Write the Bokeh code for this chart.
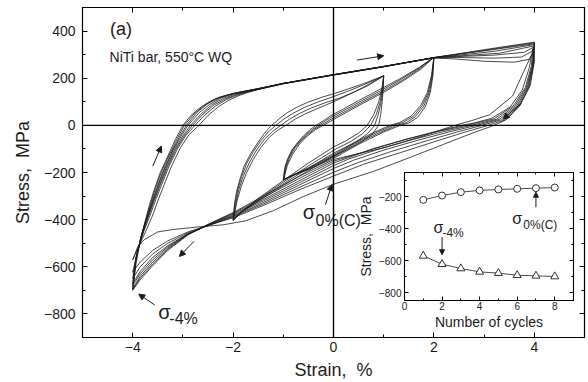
from bokeh.plotting import figure
from bokeh.models import Range1d, LinearAxis, SingleIntervalTicker, Span, Label, Arrow, NormalHead
from bokeh.layouts import column
from bokeh.embed import file_html
from bokeh.resources import INLINE

# ---------------- data ----------------
# Loop between -4 % and +4 % strain: loading branches (cycles 1..8, some cycles)
BIG_LOADING = [
    [(-4.00, -571), (-3.85, -500), (-3.72, -440), (-3.60, -380), (-3.48, -310), (-3.37, -250), (-3.22, -170),
     (-3.05, -95), (-2.88, -40), (-2.68, 0), (-2.50, 42), (-2.30, 78), (-2.10, 105), (-1.90, 125), (-1.70, 140),
     (-1.50, 152), (-1.00, 176), (0.00, 213), (1.00, 248), (2.00, 287), (3.00, 321), (4.00, 353)],
    [(-4.00, -623), (-3.90, -530), (-3.78, -450), (-3.66, -385), (-3.54, -315), (-3.42, -250), (-3.28, -175),
     (-3.11, -100), (-2.94, -42), (-2.76, 0), (-2.56, 45), (-2.35, 82), (-2.13, 110), (-1.92, 128), (-1.72, 141),
     (-1.50, 153), (-1.00, 177), (0.00, 214), (1.00, 249), (2.00, 288), (3.00, 318), (4.00, 350)],
    [(-4.00, -650), (-3.92, -548), (-3.80, -458), (-3.69, -390), (-3.57, -318), (-3.45, -252), (-3.31, -178),
     (-3.14, -102), (-2.97, -44), (-2.81, 0), (-2.60, 48), (-2.39, 85), (-2.16, 112), (-1.94, 130), (-1.73, 142),
     (-1.50, 153), (-1.00, 177), (0.00, 214), (1.00, 249), (2.00, 288), (3.00, 316), (3.99, 346)],
    [(-4.00, -671), (-3.93, -560), (-3.82, -465), (-3.71, -395), (-3.59, -322), (-3.47, -255), (-3.33, -180),
     (-3.17, -105), (-3.00, -45), (-2.85, 0), (-2.63, 50), (-2.42, 88), (-2.19, 115), (-1.96, 132), (-1.74, 143),
     (-1.50, 154), (-1.00, 178), (0.00, 214), (1.00, 249), (2.00, 287), (2.60, 300), (3.20, 314), (3.98, 342)],
    [(-4.00, -679), (-3.94, -568), (-3.83, -470), (-3.73, -400), (-3.61, -328), (-3.50, -260), (-3.36, -184),
     (-3.20, -108), (-3.04, -48), (-2.90, 0), (-2.68, 53), (-2.46, 90), (-2.23, 117), (-1.99, 134), (-1.76, 144),
     (-1.50, 155), (-1.00, 178), (0.00, 215), (1.00, 250), (2.00, 287), (2.60, 296), (3.30, 306), (3.97, 336)],
    [(-4.00, -692), (-3.94, -575), (-3.84, -478), (-3.74, -405), (-3.63, -333), (-3.52, -265), (-3.38, -187),
     (-3.22, -112), (-3.07, -50), (-2.93, 0), (-2.72, 55), (-2.50, 93), (-2.26, 118), (-2.01, 135), (-1.77, 145),
     (-1.50, 155), (-1.00, 178), (0.00, 215), (1.00, 250), (2.00, 287), (2.50, 292), (3.20, 298), (3.80, 310),
     (3.97, 330)],
    [(-4.00, -696), (-3.94, -580), (-3.85, -485), (-3.75, -410), (-3.65, -337), (-3.55, -268), (-3.42, -194),
     (-3.26, -120), (-3.11, -55), (-2.97, 0), (-2.78, 48), (-2.60, 80), (-2.40, 107), (-2.18, 125), (-1.92, 139),
     (-1.50, 156), (-1.00, 178), (0.00, 215), (1.00, 250), (2.00, 286), (2.50, 288), (3.20, 285), (3.75, 290),
     (3.96, 315)],
    [(-4.00, -700), (-3.93, -583), (-3.85, -490), (-3.76, -414), (-3.67, -340), (-3.57, -272), (-3.45, -200),
     (-3.30, -130), (-3.15, -60), (-3.00, 0), (-2.85, 40), (-2.70, 68), (-2.50, 97), (-2.30, 118), (-2.05, 132),
     (-1.80, 143), (-1.50, 156), (-1.00, 178), (0.00, 215), (1.00, 250), (2.00, 286), (2.40, 282), (3.00, 272),
     (3.60, 268), (3.90, 280), (3.95, 300)],
]
# Loop between -4 % and +4 %: unloading branches
BIG_UNLOADING = [
    [(4.00, 353), (4.00, 270), (3.92, 170), (3.72, 85), (3.45, 25), (3.20, 0), (2.80, -30), (2.20, -80),
     (1.50, -138), (0.80, -195), (0.00, -250), (-0.60, -302), (-1.20, -362), (-1.75, -405), (-2.20, -422),
     (-2.70, -431), (-3.20, -442), (-3.50, -452), (-3.77, -485), (-3.90, -515), (-4.00, -571)],
    [(4.00, 353), (3.99, 265), (3.90, 165), (3.70, 82), (3.40, 22), (3.08, 0), (2.60, -30), (2.00, -70),
     (1.30, -118), (0.60, -165), (0.00, -215), (-0.70, -275), (-1.40, -340), (-2.00, -392), (-2.50, -425),
     (-2.90, -452), (-3.30, -490), (-3.60, -530), (-3.85, -580), (-4.00, -623)],
    [(4.00, 350), (3.98, 260), (3.88, 162), (3.67, 81), (3.35, 24), (2.96, 0), (2.45, -29), (1.85, -66),
     (1.15, -111), (0.50, -157), (0.00, -199), (-0.70, -265), (-1.40, -334), (-2.00, -388), (-2.50, -425),
     (-2.90, -456), (-3.30, -500), (-3.60, -545), (-3.85, -600), (-4.00, -650)],
    [(4.00, 345), (3.97, 255), (3.86, 160), (3.64, 80), (3.30, 25), (2.85, 0), (2.30, -28), (1.70, -62),
     (1.00, -105), (0.40, -148), (0.00, -183), (-0.70, -255), (-1.40, -328), (-2.00, -385), (-2.50, -425),
     (-2.90, -460), (-3.30, -510), (-3.60, -560), (-3.85, -620), (-4.00, -671)],
    [(3.99, 342), (3.96, 252), (3.84, 160), (3.61, 81), (3.25, 26), (2.75, 0), (2.20, -26), (1.60, -59),
     (0.90, -101), (0.30, -143), (0.00, -171), (-0.70, -246), (-1.40, -321), (-2.00, -381), (-2.50, -423),
     (-2.90, -461), (-3.30, -515), (-3.60, -570), (-3.85, -630), (-4.00, -679)],
    [(3.98, 335), (3.94, 250), (3.82, 160), (3.58, 82), (3.20, 28), (2.65, 0), (2.10, -25), (1.50, -56),
     (0.80, -98), (0.00, -160), (-0.70, -237), (-1.40, -315), (-2.00, -377), (-2.50, -422), (-2.90, -462),
     (-3.30, -520), (-3.60, -580), (-3.85, -640), (-4.00, -692)],
    [(3.97, 325), (3.90, 245), (3.76, 150), (3.52, 78), (3.15, 30), (2.80, 10), (2.55, 0), (2.00, -28),
     (1.40, -62), (0.80, -100), (0.00, -152), (-0.70, -227), (-1.40, -307), (-2.00, -373), (-2.50, -421),
     (-2.90, -463), (-3.30, -525), (-3.60, -588), (-3.85, -648), (-4.00, -696)],
    [(3.95, 300), (3.84, 252), (3.57, 125), (3.11, 45), (2.75, 20), (2.45, 2), (2.10, -22), (1.79, -45),
     (1.00, -95), (0.00, -145), (-0.70, -218), (-1.40, -300), (-2.00, -370), (-2.50, -420), (-2.90, -465),
     (-3.30, -530), (-3.60, -595), (-3.85, -655), (-4.00, -700)],
]
# Loop between -2 % and +1 %
LOOP_M2_P1_LOADING = [
    [(-2.00, -400), (-1.97, -330), (-1.93, -280), (-1.86, -225), (-1.78, -173), (-1.65, -120), (-1.51, -74),
     (-1.38, -35), (-1.25, -3), (-1.08, 28), (-0.92, 54), (-0.72, 78), (-0.52, 97), (-0.25, 118), (0.00, 134),
     (0.30, 155), (0.60, 177), (1.00, 210)],
    [(-2.00, -398), (-1.96, -330), (-1.91, -275), (-1.83, -218), (-1.73, -162), (-1.60, -112), (-1.45, -66),
     (-1.30, -28), (-1.15, 0), (-0.98, 28), (-0.80, 52), (-0.58, 76), (-0.30, 100), (0.00, 122), (0.30, 146),
     (0.60, 172), (1.00, 210)],
    [(-2.00, -402), (-1.94, -325), (-1.88, -268), (-1.79, -212), (-1.67, -155), (-1.53, -104), (-1.37, -58),
     (-1.21, -25), (-1.05, 0), (-0.87, 27), (-0.68, 50), (-0.44, 74), (-0.15, 97), (0.10, 114), (0.40, 140),
     (0.70, 170), (1.00, 210)],
    [(-2.00, -405), (-1.92, -320), (-1.84, -260), (-1.74, -205), (-1.60, -145), (-1.45, -95), (-1.28, -50),
     (-1.12, -22), (-0.95, 0), (-0.75, 28), (-0.55, 50), (-0.30, 73), (0.00, 100), (0.30, 130), (0.60, 162),
     (1.00, 210)],
]
LOOP_M2_P1_UNLOADING = [
    [(1.00, 210), (0.99, 150), (0.97, 100), (0.94, 45), (0.90, 0), (0.78, -35), (0.55, -72), (0.25, -105),
     (0.00, -130), (-0.50, -192), (-1.00, -255), (-1.50, -322), (-1.80, -362), (-2.00, -400)],
    [(1.00, 210), (0.98, 150), (0.95, 100), (0.89, 45), (0.82, 0), (0.68, -35), (0.45, -70), (0.15, -102),
     (0.00, -118), (-0.50, -182), (-1.00, -248), (-1.50, -318), (-1.80, -362), (-2.00, -398)],
    [(1.00, 210), (0.97, 150), (0.93, 100), (0.85, 45), (0.74, 0), (0.58, -35), (0.35, -68), (0.05, -100),
     (-0.50, -172), (-1.00, -241), (-1.50, -314), (-1.80, -362), (-2.00, -402)],
    [(1.00, 210), (0.96, 150), (0.90, 100), (0.80, 45), (0.67, 0), (0.50, -33), (0.25, -65), (0.00, -92),
     (-0.50, -160), (-1.00, -234), (-1.50, -310), (-1.80, -360), (-2.00, -405)],
]
# Loop between -1 % and +2 %
LOOP_M1_P2_LOADING = [
    [(-1.00, -230), (-0.97, -180), (-0.92, -145), (-0.83, -105), (-0.72, -74), (-0.60, -45), (-0.46, -17),
     (-0.35, 0), (-0.20, 20), (-0.06, 40), (0.20, 70), (0.50, 105), (0.90, 150), (1.30, 195), (1.70, 245),
     (2.00, 289)],
    [(-1.00, -231), (-0.96, -178), (-0.90, -140), (-0.80, -100), (-0.68, -68), (-0.55, -40), (-0.42, -17),
     (-0.30, 0), (-0.14, 22), (0.00, 40), (0.25, 68), (0.55, 103), (0.95, 148), (1.35, 196), (1.72, 245),
     (2.00, 289)],
    [(-1.00, -233), (-0.94, -175), (-0.87, -134), (-0.76, -94), (-0.63, -62), (-0.50, -37), (-0.38, -16),
     (-0.25, 0), (-0.08, 22), (0.00, 32), (0.28, 64), (0.58, 99), (0.98, 144), (1.38, 193), (1.74, 243),
     (2.00, 289)],
    [(-1.00, -235), (-0.92, -170), (-0.82, -125), (-0.68, -80), (-0.52, -45), (-0.36, -18), (-0.20, 0),
     (0.00, 25), (0.30, 60), (0.60, 95), (1.00, 140), (1.40, 190), (1.75, 240), (2.00, 289)],
]
LOOP_M1_P2_UNLOADING = [
    [(2.00, 289), (1.98, 210), (1.93, 140), (1.83, 80), (1.68, 35), (1.50, 10), (1.33, 0), (1.00, -28),
     (0.50, -80), (0.00, -140), (-0.50, -188), (-0.80, -212), (-1.00, -230)],
    [(2.00, 289), (1.97, 210), (1.91, 140), (1.80, 82), (1.63, 37), (1.45, 11), (1.26, 0), (0.95, -28),
     (0.45, -78), (0.00, -135), (-0.50, -186), (-0.80, -211), (-1.00, -231)],
    [(2.00, 289), (1.96, 210), (1.89, 140), (1.77, 84), (1.59, 38), (1.38, 12), (1.19, 0), (0.87, -29),
     (0.42, -76), (0.00, -130), (-0.50, -183), (-0.80, -210), (-1.00, -233)],
    [(2.00, 289), (1.95, 210), (1.87, 140), (1.74, 85), (1.55, 40), (1.32, 12), (1.13, 0), (0.80, -30),
     (0.40, -75), (0.00, -125), (-0.50, -180), (-0.80, -210), (-1.00, -232)],
]

# Inset: stresses versus number of cycles
CYCLES = [1, 2, 3, 4, 5, 6, 7, 8]
SIGMA_0C = [-221, -194, -173, -162, -156, -152, -148, -144]
SIGMA_M4 = [-571, -623, -650, -671, -679, -692, -696, -700]

FONT = "Liberation Sans"
INK = "#1c1c1c"
NBSP = "\u00a0"


def split(curves):
    return [[pt[0] for pt in c] for c in curves], [[pt[1] for pt in c] for c in curves]


def style_ticks(ax, major_in, minor_in):
    ax.major_tick_in = major_in
    ax.major_tick_out = 0
    ax.minor_tick_in = minor_in
    ax.minor_tick_out = 0
    ax.axis_line_color = "black"
    ax.major_tick_line_color = "black"
    ax.minor_tick_line_color = "black"


def mirror_axis(tk, major_in, minor_in):
    ax = LinearAxis(ticker=tk, major_label_text_color=None, major_label_standoff=0)
    style_ticks(ax, major_in, minor_in)
    return ax


# ---------------- main figure ----------------
p = figure(width=588, height=382, x_range=Range1d(-5, 5), y_range=Range1d(-900, 500),
           output_backend="svg", toolbar_location=None,
           min_border_left=82, min_border_right=3, min_border_top=7, min_border_bottom=43)
p.xgrid.visible = False
p.ygrid.visible = False
p.outline_line_color = "black"
p.outline_line_width = 1.2
p.background_fill_color = "white"
p.border_fill_color = "white"

xt = SingleIntervalTicker(interval=2, num_minor_ticks=2)
yt = SingleIntervalTicker(interval=200, num_minor_ticks=2)
p.xaxis.ticker = xt
p.yaxis.ticker = yt
for ax in (p.xaxis[0], p.yaxis[0]):
    style_ticks(ax, 5, 3)
    ax.major_label_text_font = FONT
    ax.major_label_text_font_size = "14px"
    ax.major_label_text_color = INK
    ax.axis_label_text_font = FONT
    ax.axis_label_text_font_size = "18px"
    ax.axis_label_text_font_style = "normal"
    ax.axis_label_text_color = INK
p.xaxis.axis_label = "Strain," + NBSP + " %"
p.yaxis.axis_label = "Stress," + NBSP + " MPa"
p.xaxis.major_label_standoff = 4
p.xaxis.axis_label_standoff = 5
p.yaxis.major_label_standoff = 7
p.yaxis.axis_label_standoff = 8

p.add_layout(mirror_axis(yt, 5, 3), "right")
p.add_layout(mirror_axis(xt, 5, 3), "above")

p.add_layout(Span(location=0, dimension="width", line_color="black", line_width=1.4))
p.add_layout(Span(location=0, dimension="height", line_color="black", line_width=1.4))

for curves in (BIG_LOADING, BIG_UNLOADING, LOOP_M2_P1_LOADING, LOOP_M2_P1_UNLOADING,
               LOOP_M1_P2_LOADING, LOOP_M1_P2_UNLOADING):
    xs, ys = split(curves)
    p.multi_line(xs=xs, ys=ys, line_color=INK, line_width=0.8)


def lab(fig, x, y, text, size, baseline="alphabetic"):
    fig.add_layout(Label(x=x, y=y, text=text, text_font=FONT, text_font_size=size,
                         text_color=INK, text_baseline=baseline))


def arrow(fig, x0, y0, x1, y1, size=6):
    fig.add_layout(Arrow(x_start=x0, y_start=y0, x_end=x1, y_end=y1, line_color=INK, line_width=1,
                         end=NormalHead(size=size, fill_color=INK, line_color=INK)))


lab(p, -4.45, 451, "(a)", "18px", "top")
lab(p, -4.46, 323, "NiTi bar, 550°C WQ", "14px", "top")
lab(p, -3.49, -791, "σ", "20px")
lab(p, -3.27, -821, "-4%", "16px")
lab(p, -0.615, -366, "σ", "20px")
lab(p, -0.357, -404, "0%(C)", "16px")

arrow(p, -3.60, -173, -3.43, -88)
arrow(p, 0.47, 277, 1.00, 295)
arrow(p, 3.74, 94, 3.38, 26)
arrow(p, -2.78, -492, -3.07, -556)
arrow(p, -3.56, -762, -3.88, -716)
arrow(p, -0.16, -336, -0.03, -251)

# ---------------- inset ----------------
q = figure(frame_width=169, frame_height=128, x_range=Range1d(0, 9), y_range=Range1d(-850, -50),
           output_backend="svg", toolbar_location=None,
           min_border_left=82, min_border_right=4, min_border_top=5, min_border_bottom=34,
           margin=(-(382 - 167), 0, 0, 322))
q.xgrid.visible = False
q.ygrid.visible = False
q.outline_line_color = "black"
q.outline_line_width = 1.1
q.background_fill_color = "white"
q.border_fill_alpha = 0
qxt = SingleIntervalTicker(interval=2, num_minor_ticks=2)
qyt = SingleIntervalTicker(interval=200, num_minor_ticks=2)
q.xaxis.ticker = qxt
q.yaxis.ticker = qyt
for ax in (q.xaxis[0], q.yaxis[0]):
    style_ticks(ax, 4, 2)
    ax.major_label_text_font = FONT
    ax.major_label_text_font_size = "10px"
    ax.major_label_text_color = INK
    ax.axis_label_text_font = FONT
    ax.axis_label_text_font_size = "14px"
    ax.axis_label_text_font_style = "normal"
    ax.axis_label_text_color = INK
q.xaxis.axis_label = "Number of cycles"
q.yaxis.axis_label = "Stress," + NBSP + " MPa"
q.xaxis.major_label_standoff = 1
q.xaxis.axis_label_standoff = 1
q.yaxis.major_label_standoff = 3
q.yaxis.axis_label_standoff = 2
q.add_layout(mirror_axis(qyt, 4, 2), "right")
q.add_layout(mirror_axis(qxt, 4, 2), "above")

q.line(CYCLES, SIGMA_0C, line_color=INK, line_width=0.8)
q.scatter(CYCLES, SIGMA_0C, marker="circle", size=7, fill_color="white", line_color=INK, line_width=0.9)
q.line(CYCLES, SIGMA_M4, line_color=INK, line_width=0.8)
q.scatter(CYCLES, SIGMA_M4, marker="triangle", size=8, fill_color="white", line_color=INK, line_width=0.9)

lab(q, 1.54, -394, "σ", "16px")
lab(q, 2.02, -425, "-4%", "12px")
lab(q, 5.74, -337, "σ", "16px")
lab(q, 6.33, -375, "0%(C)", "12px")
arrow(q, 2.0, -454, 2.0, -564, size=5)
arrow(q, 7.0, -267, 7.0, -173, size=5)

layout = column(p, q)
open("out.html", "w").write(file_html(layout, INLINE))
